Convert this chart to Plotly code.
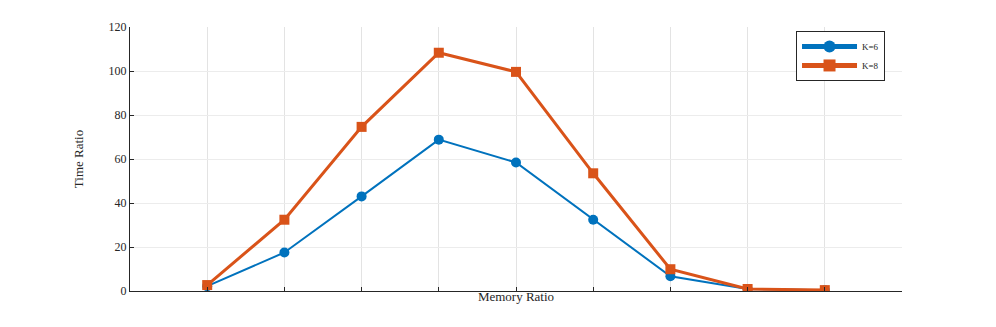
import plotly.graph_objects as go

memory_ratio = [1, 2, 3, 4, 5, 6, 7, 8, 9]
k6_time = [2.2, 17.5, 43.0, 68.8, 58.4, 32.4, 6.7, 0.9, 0.3]
k8_time = [2.7, 32.4, 74.6, 108.3, 99.6, 53.5, 9.9, 0.9, 0.4]
y_ticks = [0, 20, 40, 60, 80, 100, 120]

font_family = "Liberation Serif, Times New Roman, serif"

fig = go.Figure()
fig.add_trace(go.Scatter(
    x=memory_ratio, y=k6_time, name="K=6", mode="lines+markers",
    line=dict(color="#0072BD", width=2),
    marker=dict(symbol="circle", size=10, color="#0072BD"),
))
fig.add_trace(go.Scatter(
    x=memory_ratio, y=k8_time, name="K=8", mode="lines+markers",
    line=dict(color="#D95319", width=3),
    marker=dict(symbol="square", size=10, color="#D95319"),
))

# page body adds ~8px offset, margins compensate
fig.update_layout(
    width=996, height=327,
    margin=dict(l=122, r=102, t=16, b=44),
    paper_bgcolor="white", plot_bgcolor="white",
    font=dict(family=font_family, size=12, color="#262626"),
    showlegend=True,
    legend=dict(x=0.978, y=0.985, xanchor="right", yanchor="top",
                bgcolor="white", bordercolor="#262626", borderwidth=1,
                font=dict(size=9), tracegroupgap=0, itemwidth=55,
                itemsizing="constant"),
)
fig.update_xaxes(
    range=[0, 10], tickvals=memory_ratio, showticklabels=False,
    ticks="inside", ticklen=4, tickcolor="#262626",
    showgrid=True, gridcolor="#e3e3e3", gridwidth=1,
    showline=True, linecolor="#262626", linewidth=1, zeroline=False,
    title=dict(text="Memory Ratio", standoff=0, font=dict(size=13)),
)
fig.update_yaxes(
    range=[0, 120], tickvals=y_ticks, ticks="inside", ticklen=4,
    tickcolor="#262626",
    showgrid=True, gridcolor="#ececec", gridwidth=1,
    showline=True, linecolor="#262626", linewidth=1, zeroline=False,
    title=dict(text="Time Ratio", standoff=22, font=dict(size=13)),
)

fig.write_html("out.html")
